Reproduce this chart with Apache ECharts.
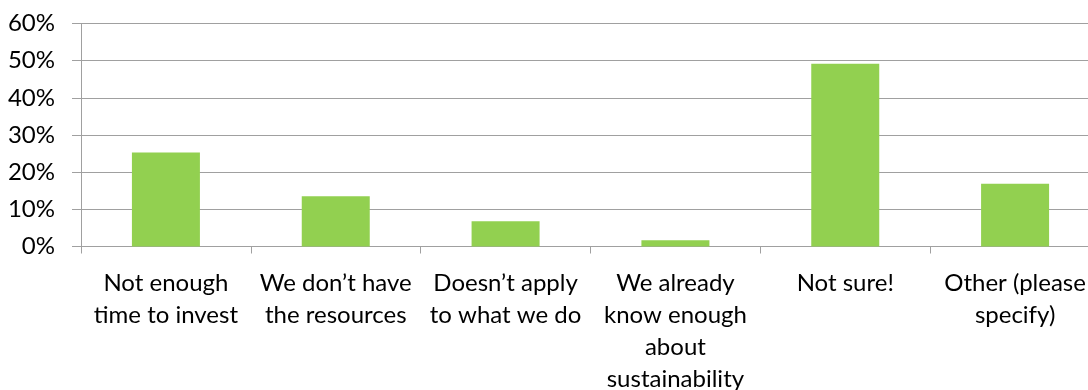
<!DOCTYPE html>
<html>
<head>
<meta charset="utf-8">
<script src="https://cdn.jsdelivr.net/npm/echarts@6/dist/echarts.min.js"></script>
<style>
  html, body { margin: 0; padding: 0; background: #ffffff; overflow: hidden; }
  #chart { width: 1088px; height: 390px; }
</style>
</head>
<body>
<div id="chart"></div>
<script>
// Survey answers: reasons given, share of respondents
const categories = [
  'Not enough\ntime to invest',
  'We don\u2019t have\nthe resources',
  'Doesn\u2019t apply\nto what we do',
  'We already\nknow enough\nabout\nsustainability',
  'Not sure!',
  'Other (please\nspecify)'
];
const shares = [0.253, 0.135, 0.068, 0.017, 0.492, 0.169];
const yTicks = [0, 0.1, 0.2, 0.3, 0.4, 0.5, 0.6];

const FONT = 'Lato';
const LINE = '#a0a0a0';

const chart = echarts.init(document.getElementById('chart'), null, { renderer: 'canvas' });
chart.setOption({
  animation: false,
  backgroundColor: '#ffffff',
  // the plot area runs a little past the right edge of the canvas
  grid: {
    left: 81, right: -12, top: 23.5, bottom: 143.5,
    containLabel: false,
    outerBoundsMode: 'none'
  },
  xAxis: {
    type: 'category',
    data: categories,
    boundaryGap: true,
    axisLine: { show: true, lineStyle: { color: LINE, width: 1 } },
    axisTick: { show: true, length: 7, lineStyle: { color: LINE } },
    axisLabel: {
      interval: 0,
      margin: 21,
      color: '#000000',
      fontFamily: FONT,
      fontSize: 24,
      lineHeight: 32,
      align: 'center'
    },
    splitLine: { show: false }
  },
  yAxis: {
    type: 'value',
    min: yTicks[0],
    max: yTicks[yTicks.length - 1],
    interval: yTicks[1] - yTicks[0],
    axisLine: { show: true, lineStyle: { color: LINE, width: 1 } },
    axisTick: { show: true, length: 9, lineStyle: { color: LINE } },
    axisLabel: {
      margin: 26,
      color: '#000000',
      fontFamily: FONT,
      fontSize: 24,
      formatter: v => Math.round(v * 100) + '%'
    },
    splitLine: { show: true, lineStyle: { color: LINE, width: 1 } }
  },
  series: [{
    type: 'bar',
    data: shares,
    barWidth: 68,
    itemStyle: { color: '#92d050' }
  }]
});
</script>
</body>
</html>
